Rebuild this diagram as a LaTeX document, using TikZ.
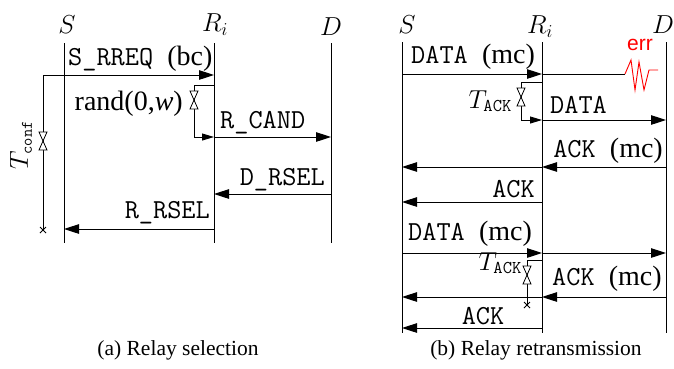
\RequirePackage{fix-cm}
\documentclass[tikz,border=0pt]{standalone}
\usepackage{fontspec}
\newfontfamily\capfont{Liberation Serif}
\newfontfamily\errfont{Liberation Sans}
\usetikzlibrary{arrows.meta, positioning}
\newcommand{\pkt}[1]{{\fontsize{27.5}{30}\selectfont\ttfamily #1}}
\newcommand{\ttsub}[2]{\mbox{\fontsize{#1}{20}\selectfont\ttfamily #2}}

\begin{document}
\begin{tikzpicture}[
    x=1pt, y=-1pt,
    every node/.style={inner sep=0pt, font=\fontsize{28}{32}\selectfont\capfont},
    who/.style={font=\fontsize{26}{30}\selectfont},
    life/.style={line width=1pt},
    msg/.style={-{Triangle[length=15pt,width=9.5pt]}, line width=1pt},
    tmsg/.style={-{Triangle[length=12pt,width=7pt]}, line width=0.9pt},
    timer/.style={line width=0.9pt},
    errline/.style={red, line width=0.9pt},
    lbl/.style={anchor=base west},
    rlbl/.style={anchor=base east},
    capt/.style={anchor=base, font=\fontsize{21.5}{24}\selectfont\capfont},
    hourglass/.pic={\draw[fill=white, line width=0.8pt] (-4,-9) -- (4,-9) -- (-4,9) -- (4,9) -- cycle;},
    xmark/.pic={\draw[line width=0.8pt] (-3,-3) -- (3,3) (-3,3) -- (3,-3);},
]
\useasboundingbox (0,0) rectangle (674,368);

% (a) relay selection
\node[who] (aSl) at (67,25) {$S$};
\node[who] (aRl) at (215,25) {$R_i$};
\node[who] (aDl) at (331,27) {$D$};
\coordinate (aS) at (64,43);  \coordinate (aSe) at (64,243);
\coordinate (aR) at (214,43); \coordinate (aRe) at (214,243);
\coordinate (aD) at (331,43); \coordinate (aDe) at (331,243);
\draw[life] (aS) -- (aSe);
\draw[life] (aR) -- (aRe);
\draw[life] (aD) -- (aDe);

\coordinate (rreq) at (43,75);
\coordinate (tconf) at (43,230);
\draw[msg] (rreq) -- (aR |- rreq);
\draw[timer] (rreq) -- (tconf);
\pic at (43,141) {hourglass};
\pic at (tconf) {xmark};
\node[lbl] (rreqT) at (68,65) {\pkt{S\_RREQ~}(bc)};
\node[who, rotate=90] (tconfT) at (21,145) {$T_{\ttsub{16}{conf}}$};

\coordinate (rw0) at (194,85);
\coordinate (rw1) at (194,137);
\draw[tmsg] (aR |- rw0) -- (rw0) -- (rw1) -- (aR |- rw1);
\pic at (194,100) {hourglass};
\node[rlbl] (randT) at (183,110) {rand(0,\textit{w})};

\draw[msg] (aR |- rw1) -- (aD |- rw1);
\node[lbl] (candT) at (220,128) {\pkt{R\_CAND}};

\coordinate (dsel) at (331,194);
\draw[msg] (dsel) -- (aR |- dsel);
\node[rlbl] (dselT) at (325,185) {\pkt{D\_RSEL}};

\coordinate (rsel) at (214,229);
\draw[msg] (rsel) -- (aS |- rsel);
\node[rlbl] (rselT) at (210,218) {\pkt{R\_RSEL}};

\node[capt] (capA) at (178,355) {(a) Relay selection};

% (b) relay retransmission
\node[who] (bSl) at (407,25) {$S$};
\node[who] (bRl) at (540,27) {$R_i$};
\node[who] (bDl) at (663,25) {$D$};
\coordinate (bS) at (402,42);  \coordinate (bSe) at (402,333);
\coordinate (bR) at (542,42);  \coordinate (bRe) at (542,333);
\coordinate (bD) at (666,42);  \coordinate (bDe) at (666,333);
\draw[life] (bS) -- (bSe);
\draw[life] (bR) -- (bRe);
\draw[life] (bD) -- (bDe);

\coordinate (d1) at (402,74);
\coordinate (e0) at (625,74);
\draw[msg] (d1) -- (bR |- d1);
\draw[life] (bR |- d1) -- (e0);
\draw[errline] (e0) -- ++(6,-14) -- ++(4,30) -- ++(4,-28) -- ++(5,28) -- ++(5,-20) -- ++(9,0);
\node[text=red, font=\fontsize{21}{24}\selectfont\errfont] (errT) at (640,45) {err};
\node[lbl] (d1T) at (411,63) {\pkt{DATA~}(mc)};

\coordinate (ta0) at (521,82);
\coordinate (ta1) at (521,120);
\draw[tmsg] (bR |- ta0) -- (ta0) -- (ta1) -- (bR |- ta1);
\pic at (521,97) {hourglass};
\node[who, rlbl] (ta1T) at (512,108) {$T_{\ttsub{18}{ACK}}$};

\draw[msg] (bR |- ta1) -- (bD |- ta1);
\node[lbl] (d2T) at (550,113) {\pkt{DATA}};

\coordinate (a1) at (666,167);
\draw[msg] (a1) -- (bR |- a1);
\draw[msg] (bR |- a1) -- (bS |- a1);
\node[rlbl] (a1T) at (663,157) {\pkt{ACK~}(mc)};

\coordinate (a2) at (542,202);
\draw[msg] (a2) -- (bS |- a2);
\node[rlbl] (a2T) at (535,197) {\pkt{ACK}};

\coordinate (d3) at (402,253);
\draw[msg] (d3) -- (bR |- d3);
\draw[msg] (bR |- d3) -- (bD |- d3);
\node[lbl] (d3T) at (408,240) {\pkt{DATA~}(mc)};

\coordinate (tb0) at (527,260);
\coordinate (tb1) at (527,305);
\draw[timer] (bR |- tb0) -- (tb0) -- (tb1);
\pic at (527,275) {hourglass};
\pic at (tb1) {xmark};
\node[who, rlbl] (tb1T) at (522,270) {$T_{\ttsub{18}{ACK}}$};

\coordinate (a3) at (666,297);
\draw[msg] (a3) -- (bR |- a3);
\draw[msg] (bR |- a3) -- (bS |- a3);
\node[lbl] (a3T) at (552,285) {\pkt{ACK~}(mc)};

\coordinate (a4) at (542,328);
\draw[msg] (a4) -- (bS |- a4);
\node[anchor=base] (a4T) at (483,324) {\pkt{ACK}};

\node[capt] (capB) at (536,355) {(b) Relay retransmission};

\end{tikzpicture}
\end{document}
